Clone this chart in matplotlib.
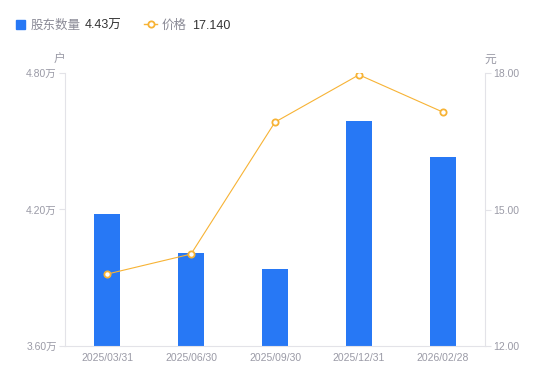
import matplotlib.pyplot as plt
from matplotlib.lines import Line2D
from matplotlib.patches import Rectangle

plt.rcParams['font.family'] = ['Liberation Sans', 'Noto Sans CJK SC', 'DejaVu Sans']

dates = ['2025/03/31', '2025/06/30', '2025/09/30', '2025/12/31', '2026/02/28']
holders = [4.18, 4.01, 3.94, 4.59, 4.43]   # 万户
price = [13.58, 14.02, 16.92, 17.96, 17.14]  # 元

left_ticks = [3.60, 4.20, 4.80]
right_ticks = [12.00, 15.00, 18.00]

blue = '#2778f5'
orange = '#f7b335'
grid_c = '#e3e3e8'
tick_c = '#9a9aa6'

fig = plt.figure(figsize=(5.5, 3.81), dpi=100)
ax = fig.add_axes([65 / 550, 35 / 381, 420 / 550, 273 / 381])
x = list(range(len(dates)))

ax.bar(x, holders, width=0.3, color=blue, zorder=2)
ax.set_xlim(-0.5, len(dates) - 0.5)
ax.set_ylim(left_ticks[0], left_ticks[-1])
ax.set_yticks(left_ticks)
ax.set_yticklabels([f'{v:.2f}万' for v in left_ticks])
ax.set_xticks(x)
ax.set_xticklabels(dates)

ax2 = ax.twinx()
ax2.plot(x, price, color=orange, lw=0.8, marker='o', ms=4.5,
         mfc='white', mec=orange, mew=1.3, zorder=3)
ax2.set_ylim(right_ticks[0], right_ticks[-1])
ax2.set_yticks(right_ticks)
ax2.set_yticklabels([f'{v:.2f}' for v in right_ticks])

for a in (ax, ax2):
    for s in a.spines.values():
        s.set_visible(False)
    a.tick_params(axis='y', colors=grid_c, labelcolor=tick_c, labelsize=7.5,
                  length=4, width=0.8, pad=2)
ax.spines['left'].set_visible(True)
ax.spines['left'].set_color(grid_c)
ax.spines['bottom'].set_visible(True)
ax.spines['bottom'].set_color(grid_c)
ax2.spines['right'].set_visible(True)
ax2.spines['right'].set_color(grid_c)
ax.tick_params(axis='x', length=0, labelcolor=tick_c, labelsize=7.5, pad=5)

fig.text(59 / 550, 1 - 60 / 381, '户', color=tick_c, fontsize=8.5, ha='center', va='center')
fig.text(490 / 550, 1 - 60 / 381, '元', color=tick_c, fontsize=8.5, ha='center', va='center')

# legend row
ly = 1 - 26 / 381
fig.patches.append(Rectangle((16 / 550, 1 - 29 / 381), 9 / 550, 9 / 381,
                             transform=fig.transFigure, color=blue, figure=fig))
fig.text(31 / 550, ly, '股东数量', color='#8a8a96', fontsize=9, va='center')
fig.text(85 / 550, ly, '4.43万', color='#333333', fontsize=9, va='center')
fig.lines.append(Line2D([144 / 550, 157 / 550], [1 - 24 / 381] * 2, transform=fig.transFigure,
                        color=orange, lw=1))
fig.lines.append(Line2D([150.5 / 550], [1 - 24 / 381], transform=fig.transFigure,
                        color=orange, marker='o', ms=4.5, mfc='white', mew=1.3))
fig.text(162 / 550, ly, '价格', color='#8a8a96', fontsize=9, va='center')
fig.text(192 / 550, ly, '17.140', color='#333333', fontsize=9, va='center')

fig.savefig('out.png', dpi=100)
